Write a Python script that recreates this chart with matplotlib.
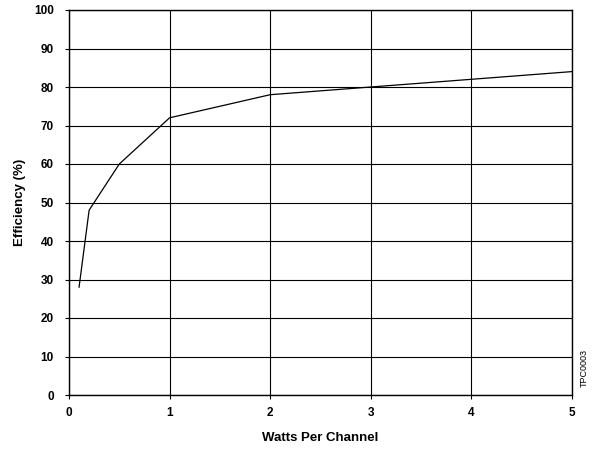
import matplotlib
matplotlib.use("Agg")
import matplotlib.pyplot as plt

watts = [0.1, 0.2, 0.5, 1, 2, 3, 4, 5]
efficiency = [28, 48, 60, 72, 78, 80, 82, 84]
x_ticks = [0, 1, 2, 3, 4, 5]
y_ticks = [0, 10, 20, 30, 40, 50, 60, 70, 80, 90, 100]

plt.rcParams["font.family"] = ["Liberation Sans", "DejaVu Sans"]

fig = plt.figure(figsize=(5.95, 4.51), dpi=100)
# axes box in pixels: left 69, right 572, top 10, bottom 395
ax = fig.add_axes([69/595, 1 - 395/451, (572-69)/595, (395-10)/451])

ax.plot(watts, efficiency, color="black", linewidth=0.9)

ax.set_xlim(0, 5)
ax.set_ylim(0, 100)
ax.set_xticks(x_ticks)
ax.set_yticks(y_ticks)
ax.set_xticklabels([str(v) for v in x_ticks], fontsize=8.5, fontweight="bold")
ax.set_yticklabels([str(v) for v in y_ticks], fontsize=8.5, fontweight="bold")
ax.tick_params(axis="x", direction="out", length=3, width=0.8, color="black", pad=6)
ax.tick_params(axis="y", direction="out", length=3, width=0.8, color="black", pad=8)
ax.grid(True, color="black", linewidth=0.8)
for s in ax.spines.values():
    s.set_color("black")
    s.set_linewidth(1.0)

ax.set_xlabel("Watts Per Channel", fontsize=9.5, fontweight="bold", va="center")
ax.xaxis.set_label_coords(0.5, (395 - 438) / 385)
ax.set_ylabel("Efficiency (%)", fontsize=9.5, fontweight="bold", va="center")
ax.yaxis.set_label_coords((20 - 69) / 503, 0.5)

fig.text(584/595, 1 - 368/451, "TPC0003", rotation=90, fontsize=6.5,
         ha="center", va="center")

fig.savefig("out.png", dpi=100, facecolor="white")
